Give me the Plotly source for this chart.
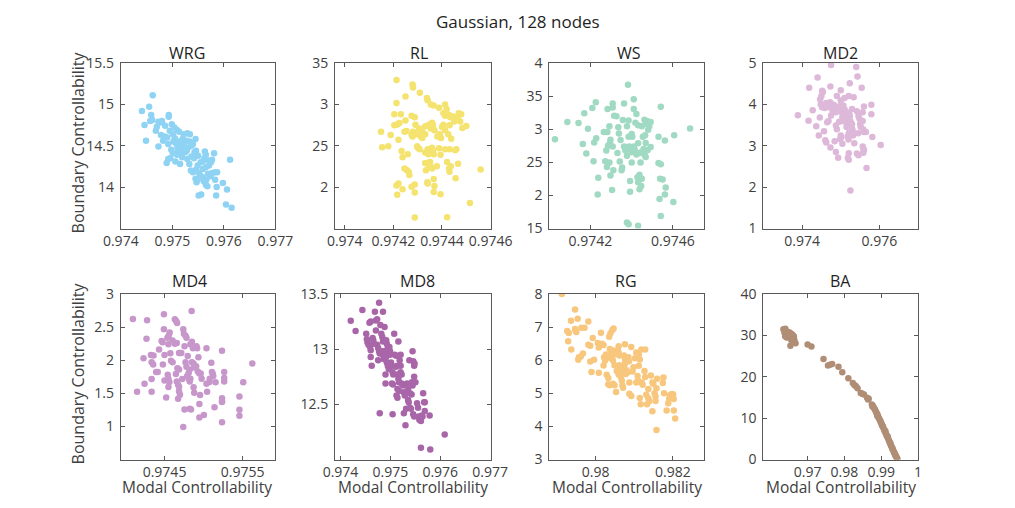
import plotly.graph_objects as go

# ---------------- data ----------------
wrg_x = [0.97462,0.97441,0.97455,0.97459,0.97493,0.97493,0.97446,0.97457,0.97461,0.97473,0.97477,0.97480,0.97468,0.97449,0.97473,0.97485,0.97490,0.97495,0.97492,0.97499,0.97504,0.97509,0.97513,0.97501,0.97505,0.97502,0.97507,0.97513,0.97516,0.97510,0.97519,0.97522,0.97525,0.97528,0.97522,0.97529,0.97534,0.97545,0.97534,0.97537,0.97540,0.97492,0.97496,0.97489,0.97501,0.97509,0.97515,0.97519,0.97529,0.97533,0.97537,0.97542,0.97546,0.97543,0.97536,0.97540,0.97546,0.97549,0.97545,0.97549,0.97554,0.97559,0.97547,0.97566,0.97565,0.97568,0.97559,0.97562,0.97563,0.97565,0.97571,0.97577,0.97581,0.97575,0.97571,0.97565,0.97559,0.97569,0.97577,0.97583,0.97587,0.97574,0.97583,0.97586,0.97551,0.97556,0.97585,0.97598,0.97606,0.97612,0.97604,0.97615,0.97506,0.97516,0.97525,0.97498,0.97511,0.97520,0.97527,0.97478,0.97482,0.97531,0.97550,0.97555,0.97552,0.97561,0.97470,0.97486]
wrg_y = [15.11,14.92,14.97,14.87,14.87,14.85,14.75,14.80,14.81,14.79,14.78,14.80,14.68,14.56,14.49,14.61,14.60,14.68,14.52,14.76,14.72,14.69,14.67,14.64,14.59,14.55,14.53,14.55,14.50,14.48,14.46,14.52,14.48,14.44,14.64,14.65,14.64,14.58,14.55,14.50,14.52,14.34,14.35,14.29,14.41,14.39,14.28,14.36,14.34,14.28,14.37,14.35,14.44,14.42,14.20,14.18,14.21,14.26,14.10,14.09,14.14,14.12,14.06,14.09,14.03,14.01,14.31,14.35,14.43,14.39,14.32,14.33,14.41,14.30,14.26,14.24,14.22,14.16,14.17,14.18,14.18,14.13,14.09,14.00,13.90,13.91,13.90,14.05,13.97,14.33,13.79,13.75,14.31,14.40,14.42,14.45,14.44,14.58,14.56,14.63,14.56,14.48,14.38,14.30,14.17,14.07,14.73,14.74]

rl_x = [0.974213,0.974213,0.974279,0.974281,0.97425,0.974309,0.974149,0.974154,0.974179,0.974189,0.974204,0.974204,0.974213,0.974219,0.974225,0.974231,0.974221,0.974234,0.974238,0.974246,0.974254,0.97425,0.974259,0.974246,0.974256,0.974263,0.974266,0.974275,0.974288,0.974291,0.974281,0.974288,0.974275,0.974294,0.974279,0.974306,0.974313,0.974319,0.974319,0.974331,0.974301,0.974308,0.974298,0.974331,0.974334,0.97434,0.974341,0.974338,0.974341,0.974354,0.974366,0.974359,0.974363,0.974354,0.974369,0.974341,0.974346,0.974331,0.974344,0.974359,0.974363,0.974366,0.974338,0.974346,0.974354,0.974359,0.974351,0.974366,0.974369,0.974366,0.974379,0.974394,0.974388,0.974391,0.974396,0.974388,0.974406,0.974413,0.974406,0.974413,0.974419,0.974429,0.974434,0.974431,0.974426,0.974438,0.974431,0.974413,0.974421,0.974429,0.974431,0.974436,0.974446,0.97445,0.974463,0.974469,0.974475,0.974479,0.974454,0.974459,0.974456,0.974466,0.974394,0.974288,0.974275,0.974288,0.974213,0.974221,0.974216,0.974238,0.974288,0.974421,0.974515,0.974559,0.974484,0.9745,0.974346,0.974331,0.974413,0.9744,0.974381]
rl_y = [3.295,3.017,3.241,3.202,3.094,3.14,2.669,2.483,2.495,2.63,2.881,2.746,2.754,2.762,2.774,2.881,2.572,2.437,2.36,2.669,2.677,2.804,2.398,2.224,2.205,2.186,2.147,2.862,2.843,2.754,2.669,2.65,2.63,2.638,2.611,2.707,2.611,2.669,2.592,2.638,2.476,2.456,2.495,2.29,2.205,2.058,2.043,3.075,3.048,2.998,2.986,2.777,2.746,2.707,2.688,2.456,2.445,2.417,2.398,2.476,2.445,2.398,2.29,2.263,2.244,2.224,2.302,2.097,2.012,1.942,2.251,2.39,2.468,2.638,2.592,2.959,2.893,2.862,2.754,2.998,2.94,2.87,2.843,2.746,2.638,2.584,2.456,2.456,2.302,2.224,2.186,2.251,2.854,2.792,2.843,2.893,2.792,2.881,2.445,2.456,2.108,2.282,1.915,1.934,2.004,2.031,2.019,2.043,1.907,1.973,1.633,1.637,1.807,2.213,2.715,2.738,2.754,2.734,2.688,2.727,2.611]

ws_x = [0.974028,0.974088,0.974142,0.97417,0.974188,0.974209,0.974226,0.974163,0.97418,0.974215,0.974218,0.974228,0.974238,0.974235,0.974265,0.974282,0.974283,0.974308,0.974308,0.974315,0.974326,0.974292,0.974297,0.974295,0.974285,0.974308,0.974277,0.974272,0.974292,0.97428,0.974297,0.974311,0.974305,0.974331,0.974342,0.974335,0.974338,0.974346,0.974354,0.974351,0.974357,0.974363,0.974382,0.974377,0.974385,0.974363,0.974369,0.974377,0.974388,0.974394,0.9744,0.974385,0.974377,0.974385,0.974392,0.974392,0.9744,0.974403,0.9744,0.97441,0.974418,0.974423,0.974431,0.974415,0.974423,0.974431,0.97441,0.974438,0.974443,0.974449,0.974428,0.974431,0.974438,0.974446,0.974449,0.974438,0.974454,0.974465,0.974462,0.974449,0.974477,0.974485,0.974492,0.97448,0.974458,0.974468,0.974477,0.974492,0.974463,0.974468,0.974431,0.97441,0.974468,0.974477,0.97453,0.974541,0.974538,0.97455,0.974535,0.974541,0.974541,0.97453,0.974561,0.974565,0.974561,0.974602,0.974606,0.974683]
ws_y = [2.848,3.108,3.093,3.24,3.005,3.319,3.407,2.775,2.632,2.515,2.799,2.863,2.265,2.015,2.956,2.956,3.304,3.387,3.328,3.201,3.196,3.044,2.84,2.80,2.75,2.74,2.676,2.515,2.495,2.43,2.30,2.38,2.08,2.64,2.51,3.03,2.936,2.838,2.42,2.38,3.14,3.387,3.672,3.044,3.132,2.74,2.68,2.60,2.74,2.69,2.65,2.887,1.59,1.564,2.216,2.054,2.495,2.887,2.927,3.304,3.098,3.23,3.059,2.69,2.618,2.789,2.74,2.642,2.495,2.66,2.275,2.20,2.093,2.14,2.25,2.31,2.887,2.91,3.142,3.044,3.073,3.044,3.108,2.99,2.70,2.79,2.68,2.73,2.61,2.58,1.54,3.45,3.10,3.12,2.49,2.47,2.25,2.24,1.946,1.687,3.338,2.887,2.83,2.12,2.015,1.9,2.907,3.01]

md2_x = [0.97389,0.974167,0.974183,0.974275,0.9744,0.974367,0.974433,0.974458,0.974467,0.9745,0.97452,0.97454,0.974483,0.974517,0.974583,0.974625,0.974567,0.9746,0.974625,0.97465,0.974683,0.9747,0.974742,0.974725,0.974733,0.97475,0.97475,0.974733,0.974792,0.974817,0.974833,0.974842,0.974875,0.974875,0.9749,0.974875,0.974933,0.974958,0.974983,0.975,0.975,0.975017,0.975017,0.975042,0.975067,0.975083,0.975042,0.975,0.975017,0.975042,0.975067,0.9751,0.975125,0.97515,0.975167,0.97515,0.975183,0.975208,0.975208,0.975183,0.975217,0.975233,0.97525,0.975267,0.975233,0.97525,0.975208,0.975183,0.975208,0.975292,0.975317,0.975333,0.975292,0.975333,0.97535,0.9754,0.975433,0.975417,0.975458,0.975483,0.9755,0.975517,0.975417,0.975458,0.975542,0.975567,0.975567,0.975583,0.9756,0.975567,0.975583,0.9756,0.975583,0.9756,0.97565,0.975792,0.975792,0.975667,0.975817,0.976033,0.97495,0.9751,0.97505,0.9749,0.9753,0.9752,0.97545]
md2_y = [3.734,3.602,4.40,3.858,4.65,3.47,3.25,3.68,4.12,4.20,4.33,4.30,4.0,3.93,3.91,4.03,3.35,3.13,3.08,3.57,3.60,3.93,3.98,4.05,4.43,4.95,3.73,2.96,3.835,3.99,3.90,3.11,3.49,3.81,4.20,2.85,2.71,3.58,3.16,4.34,4.09,3.97,3.835,3.68,3.72,3.76,3.78,3.25,3.21,3.05,3.97,4.15,3.58,3.62,3.54,3.45,3.49,4.20,3.31,3.23,3.80,3.72,3.60,3.54,4.51,1.92,2.82,2.71,2.66,3.52,3.25,4.17,3.89,3.31,3.06,4.90,4.67,3.835,3.72,3.65,3.52,3.45,2.81,2.77,4.40,3.81,3.60,3.39,3.33,2.98,2.93,2.89,2.83,3.95,3.33,3.99,3.76,2.46,3.21,3.02,3.95,3.88,3.60,3.40,3.40,3.15,3.30]

md4_x = [0.974095,0.974149,0.974244,0.974269,0.974277,0.974231,0.974326,0.974359,0.974335,0.974355,0.974335,0.974335,0.974393,0.974413,0.97443,0.974463,0.974475,0.974492,0.974492,0.9745,0.974479,0.9745,0.974521,0.974537,0.974554,0.974566,0.97455,0.974541,0.97455,0.974562,0.97455,0.974574,0.974583,0.974603,0.974603,0.974632,0.974649,0.974661,0.974632,0.974657,0.974645,0.974665,0.974686,0.974657,0.974674,0.974686,0.974686,0.974698,0.974674,0.974686,0.974698,0.974715,0.974727,0.97474,0.97474,0.974748,0.974769,0.974781,0.974756,0.974756,0.974769,0.974781,0.97479,0.97481,0.974823,0.974797,0.97481,0.974823,0.974831,0.974831,0.974851,0.974864,0.974823,0.974839,0.974847,0.974851,0.974872,0.97488,0.974872,0.97488,0.974909,0.974917,0.974905,0.974926,0.974946,0.974934,0.974946,0.974946,0.974963,0.974975,0.974955,0.975004,0.975037,0.975045,0.975037,0.975079,0.975074,0.975099,0.975107,0.975116,0.975124,0.97514,0.975153,0.975236,0.975236,0.975236,0.975236,0.975236,0.975264,0.975264,0.975264,0.975459,0.975459,0.975459,0.975508,0.975624]
md4_y = [2.622,1.523,1.644,2.322,2.603,2.031,2.08,2.07,1.968,1.935,1.717,1.523,1.823,1.823,2.162,2.29,2.27,2.695,2.467,2.08,1.935,1.692,1.436,2.34,2.37,2.42,2.24,1.78,1.72,1.67,1.596,2.104,1.99,1.97,2.298,2.62,2.59,2.56,2.25,2.26,1.79,1.88,1.86,1.68,1.63,1.6,1.53,1.48,1.416,2.11,2.11,2.11,1.717,0.99,2.467,2.4,2.37,2.34,2.21,1.257,1.968,1.9,1.76,1.81,1.86,2.065,1.72,1.68,1.72,2.24,2.28,2.18,1.265,1.255,2.743,1.97,1.95,1.89,1.59,1.51,2.21,2.18,1.91,1.83,1.8,2.046,1.339,1.135,1.8,1.72,1.474,1.174,2.182,1.523,1.644,1.72,1.67,1.96,1.82,1.8,1.76,1.29,1.668,2.143,1.063,1.426,1.38,1.37,1.82,1.73,1.68,1.45,1.25,1.16,1.668,1.949]

md8_x = [0.974206,0.974303,0.974439,0.974516,0.974529,0.974542,0.974581,0.974606,0.974561,0.974594,0.974606,0.974606,0.974626,0.974645,0.974658,0.974671,0.97469,0.97471,0.974735,0.97471,0.974735,0.974755,0.974774,0.974787,0.974755,0.974774,0.974787,0.9748,0.974819,0.974839,0.974852,0.974839,0.974852,0.974865,0.974852,0.974884,0.974884,0.974903,0.974916,0.974903,0.974903,0.974929,0.974948,0.974968,0.974916,0.974929,0.974948,0.974981,0.974994,0.974994,0.975013,0.975032,0.975045,0.975058,0.975032,0.975052,0.975045,0.975077,0.97509,0.975116,0.97511,0.975142,0.975142,0.975161,0.975174,0.975142,0.975174,0.975123,0.975142,0.975161,0.975206,0.975187,0.975206,0.975206,0.975226,0.975226,0.975252,0.975271,0.97529,0.975271,0.975316,0.975303,0.975335,0.975355,0.975355,0.975368,0.97538,0.975394,0.975413,0.975394,0.975426,0.975432,0.975445,0.975445,0.975458,0.975477,0.975477,0.975503,0.975458,0.975477,0.975484,0.975535,0.975555,0.975568,0.975581,0.97563,0.975645,0.975613,0.975658,0.975677,0.97569,0.97569,0.975787,0.975613,0.9758,0.97609]
md8_y = [13.258,13.165,13.354,13.14,13.09,13.06,13.24,13.25,13.04,13.02,12.99,12.93,12.85,13.1,13.08,13.05,13.34,13.26,13.27,13.17,13.04,13.01,12.98,12.96,12.9,13.42,12.42,13.22,13.14,13.11,13.07,12.98,12.95,12.91,13.34,13.2,12.98,12.96,12.93,12.77,12.69,12.88,12.85,12.82,13.08,13.05,13.02,13.02,12.98,12.95,12.88,12.85,12.79,12.77,12.69,12.68,12.41,13.14,12.95,12.94,12.84,12.85,12.77,12.73,12.7,12.64,12.62,12.58,12.56,13.07,12.95,12.9,12.85,12.79,12.77,12.69,12.67,12.61,12.58,12.42,12.46,12.31,12.69,12.64,12.54,12.52,12.9,12.47,12.46,12.6,12.59,12.7,12.67,12.98,12.89,12.85,12.75,12.7,12.41,12.39,12.87,12.51,12.47,12.39,12.36,12.4,12.39,12.35,12.6,12.52,12.52,12.44,12.4,12.107,12.092,12.226]

rg_x = [0.979127,0.979469,0.979363,0.979535,0.979265,0.979306,0.97929,0.979371,0.979469,0.979486,0.979502,0.979551,0.979567,0.979616,0.979633,0.979714,0.979673,0.979812,0.979812,0.979861,0.979861,0.979927,0.979894,0.979959,0.980057,0.980082,0.980082,0.980139,0.980163,0.980204,0.98022,0.980245,0.980204,0.980269,0.980302,0.980286,0.980327,0.980327,0.980367,0.980351,0.980384,0.980433,0.980465,0.980367,0.980408,0.980449,0.980384,0.980433,0.980465,0.980449,0.98049,0.980449,0.98049,0.980531,0.980547,0.980596,0.980571,0.980596,0.980612,0.980596,0.980612,0.980629,0.980653,0.980653,0.980678,0.980694,0.98071,0.980735,0.980759,0.980735,0.980759,0.980776,0.980759,0.980735,0.980776,0.9808,0.980824,0.980849,0.980865,0.980873,0.980873,0.980922,0.980922,0.980955,0.98098,0.98102,0.981053,0.981053,0.981102,0.981086,0.981118,0.981143,0.981118,0.981184,0.981143,0.981167,0.981192,0.981216,0.981265,0.981282,0.981282,0.981363,0.98131,0.981363,0.981388,0.98133,0.98143,0.98147,0.981494,0.981469,0.981526,0.98155,0.98155,0.981575,0.98159,0.981755,0.981738,0.981771,0.981837,0.981878,0.981902,0.98192,0.981575,0.98196,0.982004,0.98202,0.982024,0.982057]
rg_y = [8.0,7.53,7.19,7.25,6.88,6.82,6.57,6.32,6.94,6.88,6.85,6.01,6.09,6.11,6.98,6.98,6.2,7.17,6.47,6.44,5.96,6.67,5.64,6.01,6.52,6.38,5.62,6.83,6.5,6.46,6.09,5.99,5.84,6.17,6.12,5.56,5.46,5.27,5.24,6.71,6.81,6.91,6.96,6.34,6.25,6.29,6.07,6.12,6.17,5.99,5.85,5.29,5.24,5.04,5.67,5.57,6.3,6.23,6.14,6.42,5.85,5.8,5.7,5.49,5.39,5.24,5.17,6.14,6.04,5.85,5.9,5.95,6.48,5.66,5.58,5.7,5.63,6.09,5.97,5.33,4.99,4.92,6.4,5.66,5.79,6.06,6.23,5.33,5.38,5.52,6.17,6.02,5.83,6.32,4.86,4.67,5.33,5.26,5.67,5.49,6.32,5.13,4.96,4.85,4.76,4.67,5.54,5.33,5.29,4.46,5.0,4.9,4.77,5.15,5.44,5.48,5.31,5.0,4.48,4.7,4.83,4.94,3.89,4.97,4.97,4.83,4.48,4.24]

ba_x = [0.96343,0.96395,0.9637,0.96412,0.96455,0.96481,0.96499,0.9643,0.96542,0.96568,0.96585,0.96628,0.966,0.9652,0.96465,0.9639,0.9651,0.96555,0.9661,0.9664,0.96533,0.96672,0.97,0.97104,0.97432,0.97553,0.97605,0.97666,0.97838,0.97942,0.98106,0.98227,0.9827,0.98313,0.98356,0.98443,0.98486,0.9853,0.98616,0.98659,0.98642,0.98745,0.9877,0.98795,0.9882,0.98838,0.9886,0.9888,0.989,0.98915,0.98935,0.98955,0.98975,0.9899,0.9901,0.9903,0.99045,0.99065,0.99085,0.991,0.9912,0.9914,0.99155,0.99175,0.99195,0.99215,0.9923,0.9925,0.99265,0.99285,0.99305,0.9932,0.9934,0.9936,0.99375,0.9939,0.9941,0.99425,0.9944,0.9876,0.9889,0.9902,0.9911,0.9918,0.9924,0.9930,0.9935,0.9940]
ba_y = [31.46,31.6,30.7,30.3,30.9,30.45,29.9,29.5,29.5,30.3,29.4,29.7,30.0,30.2,29.6,29.8,30.7,28.9,29.1,28.9,27.5,28.1,27.8,27.3,24.3,22.7,22.9,23.1,22.4,21.1,19.65,18.5,18.0,17.7,17.2,16.1,15.9,15.7,14.9,14.7,14.5,13.3,13.0,12.6,12.2,11.9,11.5,11.1,10.8,10.4,10.0,9.7,9.3,9.0,8.6,8.2,7.9,7.5,7.1,6.8,6.4,6.0,5.7,5.3,4.9,4.5,4.2,3.8,3.4,3.0,2.6,2.3,1.9,1.5,1.2,0.9,0.6,0.3,0.1,12.8,10.6,8.3,6.9,5.5,4.0,2.7,1.7,0.8]

names = ["WRG", "RL", "WS", "MD2", "MD4", "MD8", "RG", "BA"]
xs = [wrg_x, rl_x, ws_x, md2_x, md4_x, md8_x, rg_x, ba_x]
ys = [wrg_y, rl_y, ws_y, md2_y, md4_y, md8_y, rg_y, ba_y]
colors = ["#8fd3f4", "#f4e36e", "#a0dac3", "#ddb8d9", "#c797cb", "#a866a9", "#f8c77e", "#b08e76"]

x_ranges = [[0.974, 0.977], [0.97396, 0.9746], [0.974, 0.97475], [0.973, 0.977],
            [0.97394, 0.97592], [0.97389, 0.97701], [0.9788, 0.9828], [0.958, 1.0]]
x_ticks = [[0.974, 0.975, 0.976, 0.977], [0.974, 0.9742, 0.9744, 0.9746], [0.9742, 0.9746], [0.974, 0.976],
           [0.9745, 0.9755], [0.974, 0.975, 0.976, 0.977], [0.98, 0.982], [0.97, 0.98, 0.99, 1.0]]
x_ticktext = [["0.974", "0.975", "0.976", "0.977"], ["0.974", "0.9742", "0.9744", "0.9746"], ["0.9742", "0.9746"], ["0.974", "0.976"],
              ["0.9745", "0.9755"], ["0.974", "0.975", "0.976", "0.977"], ["0.98", "0.982"], ["0.97", "0.98", "0.99", "1"]]
y_ranges = [[13.5, 15.5], [1.5, 3.5], [1.5, 4], [1, 5], [0.5, 3], [12, 13.5], [3, 8], [0, 40]]
y_ticks = [[14, 14.5, 15, 15.5], [2, 2.5, 3, 3.5], [1.5, 2, 2.5, 3, 3.5, 4], [1, 2, 3, 4, 5],
           [1, 1.5, 2, 2.5, 3], [12.5, 13, 13.5], [3, 4, 5, 6, 7, 8], [0, 10, 20, 30, 40]]
y_ticktext = [["14", "14.5", "15", "15.5"], ["2", "25", "3", "35"], ["15", "2", "25", "3", "35", "4"], ["1", "2", "3", "4", "5"],
              ["1", "1.5", "2", "2.5", "3"], ["12.5", "13", "13.5"], ["3", "4", "5", "6", "7", "8"], ["0", "10", "20", "30", "40"]]

# ---------------- layout (pixels) ----------------
W, H = 1015, 508
col_px = [(107, 268), (330, 492), (553, 714), (776, 937)]
row_px = [(55, 227), (295, 467)]
title_px = [(176, 45), (417, 45), (636, 45), (856, 45), (179, 282), (416, 282), (633, 282), (856, 282)]

FONT = "Open Sans"
AX = "#595959"
TXT = "#404040"

fig = go.Figure()
layout = dict(width=W, height=H, margin=dict(l=0, r=0, t=0, b=0, pad=0), autosize=False,
              paper_bgcolor="white", plot_bgcolor="white", showlegend=False,
              font=dict(family=FONT, size=14, color=TXT))
annotations = []
for i in range(8):
    r, c = divmod(i, 4)
    xl, xr = col_px[c]
    yt, yb = row_px[r]
    n = "" if i == 0 else str(i + 1)
    fig.add_trace(go.Scatter(x=xs[i], y=ys[i], mode="markers", xaxis="x" + n, yaxis="y" + n,
                             marker=dict(color=colors[i], size=6.5, line=dict(width=0)),
                             hoverinfo="skip"))
    common = dict(showline=True, linecolor=AX, linewidth=1, mirror="ticks", ticks="inside",
                  ticklen=4, tickcolor=AX, tickwidth=1, showgrid=False, zeroline=False,
                  tickfont=dict(family=FONT, size=14, color=TXT), fixedrange=True, tickangle=0)
    layout["xaxis" + n] = dict(domain=[xl / W, xr / W], anchor="y" + n, range=x_ranges[i],
                               tickmode="array", tickvals=x_ticks[i], ticktext=x_ticktext[i],
                               ticklabelstandoff=0, **common)
    layout["yaxis" + n] = dict(domain=[1 - yb / H, 1 - yt / H], anchor="x" + n, range=y_ranges[i],
                               tickmode="array", tickvals=y_ticks[i], ticktext=y_ticktext[i],
                               ticklabelstandoff=3, **common)
    tx, ty = title_px[i]
    annotations.append(dict(text=names[i], x=tx / W, y=1 - ty / H, xref="paper", yref="paper",
                            showarrow=False, xanchor="center", yanchor="middle",
                            font=dict(family=FONT, size=16, color="#1f1f1f")))

annotations.append(dict(text="Gaussian, 128 nodes", x=520 / W, y=1 - 12 / H, xref="paper", yref="paper",
                        showarrow=False, xanchor="center", yanchor="middle",
                        font=dict(family=FONT, size=17, color="#1f1f1f")))
for yc in (138, 378):
    annotations.append(dict(text="Boundary Controllability", x=62 / W, y=1 - yc / H, xref="paper", yref="paper",
                            showarrow=False, xanchor="center", yanchor="middle", textangle=-90,
                            font=dict(family=FONT, size=16, color=TXT)))
for xc in (186, 411, 634, 857):
    annotations.append(dict(text="Modal Controllability", x=xc / W, y=0, xref="paper", yref="paper",
                            showarrow=False, xanchor="center", yanchor="bottom", borderpad=0,
                            font=dict(family=FONT, size=15.5, color=TXT)))
layout["annotations"] = annotations
fig.update_layout(**layout)
fig.write_html("out.html")
